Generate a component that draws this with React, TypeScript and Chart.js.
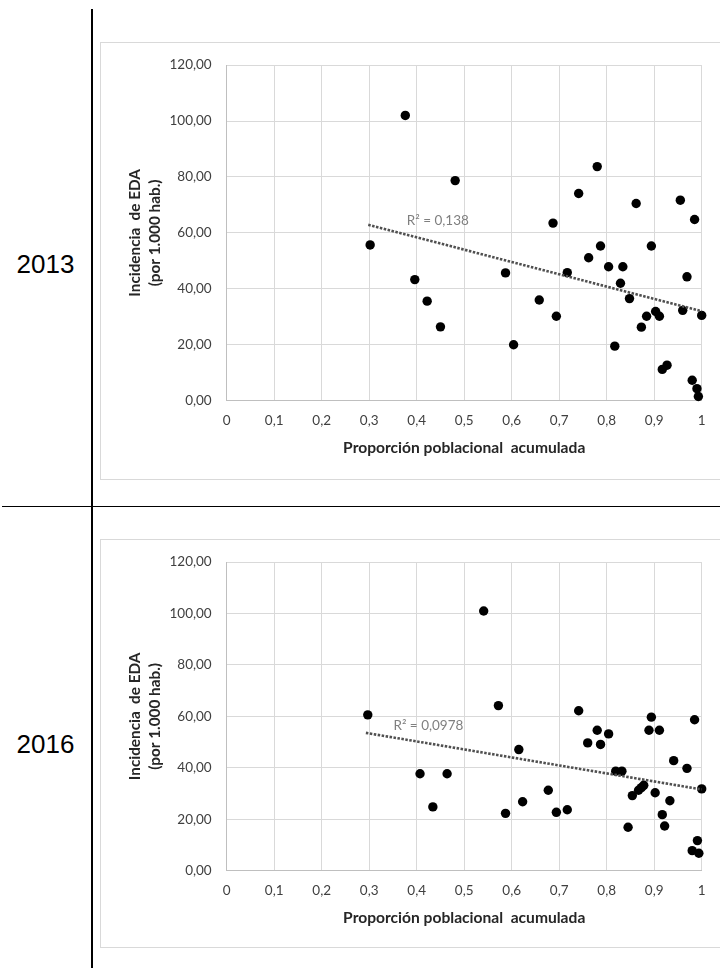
import React, { useEffect, useRef } from "react";
import { Chart, registerables } from "chart.js";

Chart.register(...registerables);

// ---------- data ----------
const years = ["2013", "2016"];

const x2013 = [0.302, 0.376, 0.396, 0.422, 0.45, 0.481, 0.587, 0.604, 0.658, 0.687, 0.694, 0.717, 0.741, 0.762, 0.78, 0.787, 0.804, 0.817, 0.829, 0.834, 0.848, 0.862, 0.873, 0.884, 0.894, 0.903, 0.911, 0.917, 0.927, 0.955, 0.96, 0.969, 0.98, 0.985, 0.99, 0.993, 1.0];
const y2013 = [55.7, 102.0, 43.3, 35.6, 26.4, 78.7, 45.7, 20.0, 36.0, 63.5, 30.2, 45.8, 74.1, 51.1, 83.7, 55.3, 47.9, 19.5, 42.0, 47.9, 36.5, 70.5, 26.3, 30.2, 55.3, 31.9, 30.2, 11.2, 12.7, 71.7, 32.3, 44.3, 7.3, 64.8, 4.3, 1.5, 30.5];

const x2016 = [0.297, 0.407, 0.434, 0.464, 0.541, 0.572, 0.587, 0.615, 0.623, 0.677, 0.694, 0.717, 0.741, 0.76, 0.78, 0.787, 0.804, 0.819, 0.832, 0.845, 0.854, 0.867, 0.873, 0.878, 0.889, 0.894, 0.902, 0.911, 0.917, 0.922, 0.933, 0.941, 0.969, 0.98, 0.985, 0.991, 0.994, 1.0];
const y2016 = [60.6, 37.7, 24.8, 37.7, 101.0, 64.2, 22.3, 47.1, 26.8, 31.3, 22.7, 23.7, 62.2, 49.7, 54.6, 49.1, 53.2, 38.7, 38.7, 16.9, 29.2, 31.3, 32.3, 33.2, 54.6, 59.7, 30.3, 54.6, 21.8, 17.4, 27.2, 42.8, 39.8, 7.8, 58.7, 11.7, 6.8, 31.8];

// trend lines (end points)
const trend2013X = [0.298, 1.0];
const trend2013Y = [62.9, 32.0];
const trend2016X = [0.293, 1.0];
const trend2016Y = [53.6, 31.6];

const r2Labels = ["R² = 0,138", "R² = 0,0978"];

const xAxisTitle = "Proporción poblacional  acumulada";
const yAxisTitle = ["Incidencia  de EDA", "(por 1.000 hab.)"];

const xMin = 0, xMax = 1, xStep = 0.1;
const yMin = 0, yMax = 120, yStep = 20;

// ---------- component ----------
type PanelProps = {
  xs: number[]; ys: number[];
  tx: number[]; ty: number[];
  r2: string; r2x: number; r2y: number;
  top: number; height: number;
  padTop: number; bottomSpace: number; titlePadBottom: number;
};

const FONT = "Lato, 'Open Sans', sans-serif";

function ScatterPanel(p: PanelProps) {
  const ref = useRef<HTMLCanvasElement | null>(null);
  useEffect(() => {
    const canvas = ref.current!;
    const r2Plugin = {
      id: "r2label",
      afterDatasetsDraw(chart: any) {
        const { ctx, scales } = chart;
        ctx.save();
        ctx.font = `13.5px ${FONT}`;
        ctx.fillStyle = "#7f7f7f";
        ctx.textBaseline = "middle";
        ctx.textAlign = "left";
        ctx.fillText(p.r2, scales.x.getPixelForValue(p.r2x), scales.y.getPixelForValue(p.r2y));
        ctx.restore();
      },
    };
    const chart = new Chart(canvas, {
      type: "scatter",
      data: {
        datasets: [
          {
            data: p.tx.map((x, i) => ({ x, y: p.ty[i] })),
            showLine: true,
            borderColor: "#505050",
            borderWidth: 2.6,
            borderDash: [2.5, 1.5],
            pointRadius: 0,
            order: 0,
          } as any,
          {
            data: p.xs.map((x, i) => ({ x, y: p.ys[i] })),
            backgroundColor: "#000000",
            borderColor: "#000000",
            borderWidth: 0,
            pointRadius: 4.7,
            clip: false,
            order: 1,
          } as any,
        ],
      },
      options: {
        responsive: false,
        animation: false,
        devicePixelRatio: 1,
        layout: { padding: { left: 0, right: 18.3, top: p.padTop, bottom: 0 } },
        plugins: { legend: { display: false }, tooltip: { enabled: false } },
        scales: {
          x: {
            type: "linear",
            min: xMin,
            max: xMax,
            ticks: {
              stepSize: xStep,
              maxRotation: 0,
              autoSkip: false,
              padding: 12,
              color: "#404040",
              font: { family: FONT, size: 13.5 },
              callback: (v: any) => String(Math.round(Number(v) * 10) / 10).replace(".", ","),
            },
            grid: { color: "#d9d9d9", lineWidth: 1, drawTicks: false },
            border: { color: "#bfbfbf" },
            title: {
              display: true,
              text: xAxisTitle,
              color: "#262626",
              font: { family: FONT, size: 15.6, weight: "bold" },
              padding: { top: 0, bottom: p.titlePadBottom },
            },
            afterFit: (s: any) => { s.height = p.bottomSpace; },
          },
          y: {
            type: "linear",
            min: yMin,
            max: yMax,
            ticks: {
              stepSize: yStep,
              padding: 15,
              color: "#404040",
              font: { family: FONT, size: 13.5 },
              callback: (v: any) => Number(v).toFixed(2).replace(".", ","),
            },
            grid: { color: "#d9d9d9", lineWidth: 1, drawTicks: false },
            border: { color: "#bfbfbf" },
            title: {
              display: true,
              text: yAxisTitle,
              color: "#262626",
              font: { family: FONT, size: 15.3, weight: "bold", lineHeight: 1.3 },
              padding: { top: 25, bottom: 0 },
            },
            afterFit: (s: any) => { s.width = 126.7; },
          },
        },
      } as any,
      plugins: [r2Plugin],
    });
    return () => chart.destroy();
  }, []);
  return (
    <canvas
      ref={ref}
      width={620}
      height={p.height}
      style={{ position: "absolute", left: 100, top: p.top, width: 620, height: p.height }}
    />
  );
}

export default function App() {
  const yearStyle: React.CSSProperties = {
    position: "absolute",
    left: 0,
    width: 91,
    textAlign: "center",
    fontFamily: "'Liberation Sans', Arial, sans-serif",
    fontSize: 26,
    lineHeight: "30px",
    color: "#000",
  };
  return (
    <div style={{ position: "absolute", left: 0, top: 0, width: 720, height: 968, background: "#fff", overflow: "hidden" }}>
      {/* chart frames */}
      <div style={{ position: "absolute", left: 100, top: 41.7, width: 640, height: 438, border: "1px solid #d9d9d9", boxSizing: "border-box" }} />
      <div style={{ position: "absolute", left: 100, top: 539, width: 640, height: 409, border: "1px solid #d9d9d9", boxSizing: "border-box" }} />
      {/* table lines */}
      <div style={{ position: "absolute", left: 90.7, top: 9.3, width: 2, height: 960, background: "#000" }} />
      <div style={{ position: "absolute", left: 1.5, top: 506, width: 720, height: 1.4, background: "#000" }} />
      <div style={{ ...yearStyle, top: 249 }}>{years[0]}</div>
      <div style={{ ...yearStyle, top: 729 }}>{years[1]}</div>
      <ScatterPanel
        xs={x2013} ys={y2013} tx={trend2013X} ty={trend2013Y}
        r2={r2Labels[0]} r2x={0.379} r2y={64.5}
        top={42} height={438} padTop={18.7} bottomSpace={79.3} titlePadBottom={22.6}
      />
      <ScatterPanel
        xs={x2016} ys={y2016} tx={trend2016X} ty={trend2016Y}
        r2={r2Labels[1]} r2x={0.351} r2y={56.4}
        top={539} height={409} padTop={16.7} bottomSpace={77.3} titlePadBottom={21.1}
      />
    </div>
  );
}
